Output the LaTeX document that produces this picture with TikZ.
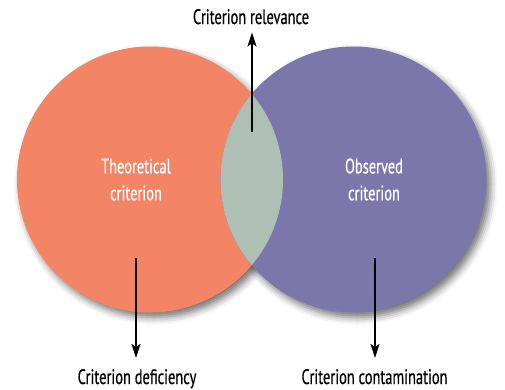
\documentclass[tikz,border=0pt]{standalone}
\usepackage{fontspec}
\setmainfont{PT Sans}[FakeStretch=0.69,FakeBold=0.5]
\usetikzlibrary{arrows.meta,shadows.blur}
\definecolor{theoryfill}{HTML}{F38466}
\definecolor{observedfill}{HTML}{7B77AB}
\definecolor{overlapfill}{HTML}{AEBFB3}
\begin{document}
\begin{tikzpicture}[x=1bp,y=-1bp,
  setcircle/.style={circle, minimum size=266bp, inner sep=0pt,
    blur shadow={shadow xshift=4bp, shadow yshift=-5bp,
      shadow blur radius=7bp, shadow opacity=55}},
  incircle/.style={text=white, font=\fontsize{21}{27}\selectfont, align=center},
  outlabel/.style={text=black, font=\fontsize{21}{24}\selectfont, inner xsep=0pt},
  pointer/.style={line width=1.2bp, -{Stealth[length=14bp,width=9bp,inset=3bp]}}]
\useasboundingbox (0,0) rectangle (505,389);

% the two sets, shadows first so neither shadow falls on the other disc
\node[setcircle] (theory) at (150,179.5) {};
\node[setcircle] (observed) at (353.5,179.5) {};
\fill[theoryfill] (theory.center) circle[radius=133bp];
\fill[observedfill] (observed.center) circle[radius=133bp];
\begin{scope}
  \clip (theory.center) circle[radius=133bp];
  \fill[overlapfill] (observed.center) circle[radius=133bp];
\end{scope}

% set names
\node[incircle] (theorytext) at (136,179.5) {Theoretical\\criterion};
\node[incircle] (observedtext) at (374,179.5) {Observed\\criterion};

% outer labels
\node[outlabel, anchor=base, inner ysep=8bp] (relevance) at (251,24) {Criterion relevance};
\node[outlabel, anchor=base, inner ysep=11bp] (deficiency) at (137,384) {Criterion deficiency};
\node[outlabel, anchor=base, inner ysep=11bp] (contamination) at (374.5,384) {Criterion contamination};

% pointers
\coordinate (relevancetail) at (252,132);
\coordinate (deficiencytail) at (136,258);
\coordinate (contaminationtail) at (375,258);
\draw[pointer] (relevancetail) -- (relevancetail |- relevance.south);
\draw[pointer] (deficiencytail) -- (deficiencytail |- deficiency.north);
\draw[pointer] (contaminationtail) -- (contaminationtail |- contamination.north);
\end{tikzpicture}
\end{document}
